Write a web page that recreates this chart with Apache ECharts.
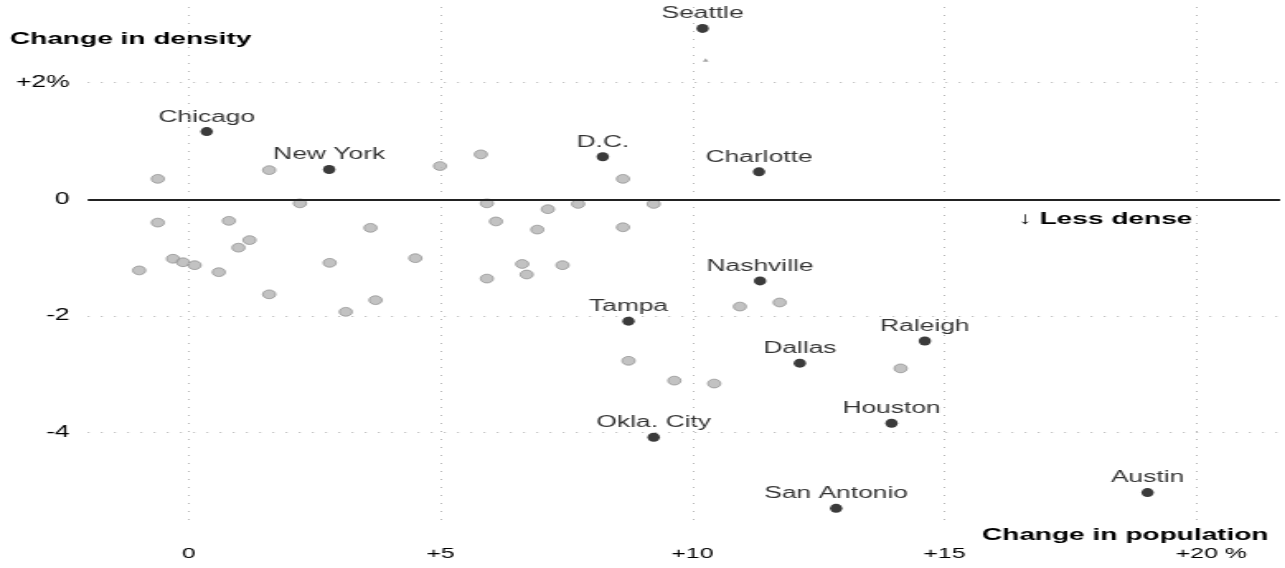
<!DOCTYPE html>
<html>
<head>
<meta charset="utf-8">
<script src="https://cdn.jsdelivr.net/npm/echarts@6/dist/echarts.min.js"></script>
<style>
html,body{margin:0;padding:0;background:#fff;overflow:hidden;}
#wrap{width:1285px;height:568px;overflow:hidden;background:#fff;}
#chart{width:779px;height:568px;transform:scaleX(1.6496);transform-origin:0 0;}
</style>
</head>
<body>
<div id="wrap"><div id="chart"></div></div>
<script>
// Highlighted cities: change in population (%) and change in density (%)
const cityNames   = ['Seattle','Chicago','New York','D.C.','Charlotte','Nashville','Tampa','Raleigh','Dallas','Houston','Okla. City','San Antonio','Austin'];
const cityPop     = [10.20, 0.36, 2.79, 8.22, 11.32, 11.34, 8.73, 14.61, 12.13, 13.95, 9.23, 12.85, 19.03];
const cityDensity = [2.93, 1.16, 0.51, 0.73, 0.47, -1.40, -2.09, -2.43, -2.81, -3.84, -4.08, -5.30, -5.03];

// Other metro areas (grey dots)
const otherPop     = [-0.98,-0.61,-0.61,-0.31,-0.11,0.12,0.60,0.80,0.99,1.21,1.60,1.60,2.21,2.80,3.12,3.61,3.71,4.50,4.99,5.80,5.92,5.92,6.10,6.62,6.71,6.92,7.13,7.42,7.73,8.62,8.62,8.73,9.23,9.64,10.43,10.94,11.73,14.13];
const otherDensity = [-1.22,0.35,-0.40,-1.02,-1.08,-1.13,-1.25,-0.37,-0.83,-0.70,0.50,-1.63,-0.07,-1.09,-1.93,-0.49,-1.73,-1.01,0.57,0.77,-0.07,-1.36,-0.38,-1.11,-1.29,-0.52,-0.17,-1.13,-0.08,0.35,-0.48,-2.77,-0.08,-3.11,-3.16,-1.84,-1.77,-2.90];

// Tiny mark near Seattle
const minorPop = [10.26];
const minorDensity = [2.39];

// Axis ticks
const xTicks = [0, 5, 10, 15, 20];
const xTickLabels = ['0', '+5', '+10', '+15', '+20 %'];
const yTicks = [2, 0, -2, -4];
const yTickLabels = ['+2%', '0', '-2', '-4'];

const FONT = '"Liberation Sans", Arial, Helvetica, sans-serif';
const INK = '#000';

function findTick(v, ticks) {
  for (let i = 0; i < ticks.length; i++) if (Math.abs(v - ticks[i]) < 1e-6) return i;
  return -1;
}

const chart = echarts.init(document.getElementById('chart'), null, {renderer: 'canvas'});

const gridLineData = [];
xTicks.forEach(t => gridLineData.push({xAxis: t}));
yTicks.filter(t => t !== 0).forEach(t => gridLineData.push({yAxis: t}));

const option = {
  animation: false,
  backgroundColor: '#fff',
  textStyle: {fontFamily: FONT},
  title: [
    {text: 'Change in density', left: 6, top: 31, padding: 0,
     textStyle: {fontFamily: FONT, fontWeight: 'bold', fontSize: 17, color: INK}},
    {text: 'Change in population', right: 10, top: 527, padding: 0,
     textStyle: {fontFamily: FONT, fontWeight: 'bold', fontSize: 17, color: INK}},
    {text: '\u2193 Less dense', left: 617, top: 211, padding: 0,
     textStyle: {fontFamily: FONT, fontWeight: 'bold', fontSize: 17, color: INK}}
  ],
  grid: {left: 53.2, right: 0, top: 1, bottom: 48},
  xAxis: {
    type: 'value', min: -2, max: 21.66, interval: 1,
    axisLine: {show: false}, axisTick: {show: false}, splitLine: {show: false},
    axisLabel: {
      margin: 26, fontSize: 15, color: INK, fontFamily: FONT, hideOverlap: false,
      formatter: function (v) {
        const i = findTick(v, xTicks);
        if (i < 0) return '';
        if (i === xTicks.length - 1) return '{p|' + xTickLabels[i] + '}';
        return xTickLabels[i];
      },
      rich: {p: {fontSize: 15, color: INK, fontFamily: FONT, padding: [0, 0, 0, 18]}}
    }
  },
  yAxis: {
    type: 'value', min: -5.5, max: 3.4, interval: 0.5,
    axisLine: {show: false}, axisTick: {show: false}, splitLine: {show: false},
    axisLabel: {
      margin: 11, fontSize: 16, color: INK, fontFamily: FONT, hideOverlap: false,
      formatter: function (v) {
        const i = findTick(v, yTicks);
        return i < 0 ? '' : yTickLabels[i];
      }
    }
  },
  series: [
    {
      type: 'scatter', z: 1, silent: true, data: [],
      markLine: {
        silent: true, symbol: 'none', label: {show: false},
        lineStyle: {color: '#b5b5b5', type: [1, 7], width: 1},
        data: gridLineData
      }
    },
    {
      type: 'scatter', z: 2, silent: true, data: [],
      markLine: {
        silent: true, symbol: 'none', label: {show: false},
        lineStyle: {color: '#222', type: 'solid', width: 2},
        data: [{yAxis: 0}]
      }
    },
    {
      type: 'scatter', z: 3, silent: true,
      symbol: 'circle', symbolSize: [7.8, 8.8],
      itemStyle: {color: '#b3b3b3', borderColor: '#858585', borderWidth: 0.8},
      data: otherPop.map((x, i) => [x, otherDensity[i]])
    },
    {
      type: 'scatter', z: 3, silent: true,
      symbol: 'triangle', symbolSize: [3.5, 3.5],
      itemStyle: {color: '#8c8c8c'},
      data: minorPop.map((x, i) => [x, minorDensity[i]])
    },
    {
      type: 'scatter', z: 4, silent: true,
      symbol: 'circle', symbolSize: [7.5, 9],
      itemStyle: {color: '#0a0a0a'},
      label: {
        show: true, position: 'top', distance: 2,
        fontSize: 16, color: INK, fontFamily: FONT,
        formatter: p => cityNames[p.dataIndex]
      },
      data: cityPop.map((x, i) => [x, cityDensity[i]])
    }
  ]
};

chart.setOption(option);
</script>
</body>
</html>
